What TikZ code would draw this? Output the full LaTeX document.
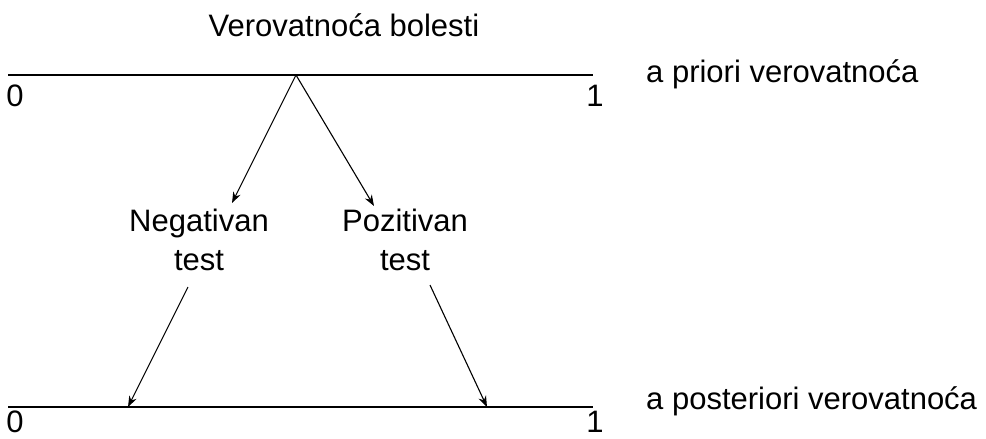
\documentclass[tikz,border=0pt]{standalone}
\usepackage{fontspec}
\setmainfont{Liberation Sans}
\usetikzlibrary{arrows.meta}
\begin{document}
\begin{tikzpicture}[x=1pt,y=-1pt,
  lbl/.style={inner sep=0pt,font=\fontsize{31}{39}\selectfont},
  axis/.style={line width=2.6pt},
  arr/.style={line width=1.1pt,-{Stealth[length=11pt,width=8pt]}}]
\useasboundingbox (0,0) rectangle (986,439);
% titles
\node[lbl] (title) at (344,25) {Verovatnoća bolesti};
\node[lbl,anchor=west] (prior) at (646,74) {a priori verovatnoća};
\node[lbl,anchor=west] (post) at (646,401) {a posteriori verovatnoća};
% axes
\coordinate (tl) at (8,75);
\coordinate (tr) at (593,75);
\coordinate (bl) at (8,407);
\coordinate (br) at (593,407);
\draw[axis] (tl) -- (tr);
\draw[axis] (bl) -- (br);
\node[lbl] (t0) at (15,96) {0};
\node[lbl] (t1) at (595,96) {1};
\node[lbl] (b0) at (15,422) {0};
\node[lbl] (b1) at (595,422) {1};
% test nodes
\node[lbl,align=center] (neg) at (199,240) {Negativan\\test};
\node[lbl,align=center] (pos) at (405,240) {Pozitivan\\test};
% connectors
\coordinate (apex) at (296,75);
\coordinate (negin) at (232,203);
\coordinate (posin) at (374,206);
\coordinate (negout) at (188,287);
\coordinate (posout) at (430,285);
\coordinate (bneg) at (128,407);
\coordinate (bpos) at (487,407);
\draw[arr] (apex) -- (negin);
\draw[arr] (apex) -- (posin);
\draw[arr] (negout) -- (bneg);
\draw[arr] (posout) -- (bpos);
\end{tikzpicture}
\end{document}
